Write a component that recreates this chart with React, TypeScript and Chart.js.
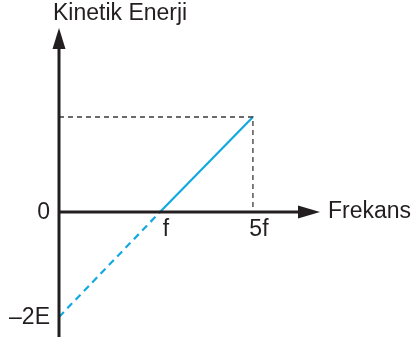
import React, { useEffect, useRef } from "react";
import { Chart, registerables } from "chart.js";

Chart.register(...registerables);

// Data (x in units where f = 1, y in units of E)
const workLineX = [1, 1.92];
const workLineY = [0, 1.81];
const extLineX = [0, 1];
const extLineY = [-2, 0];
const guideX = [0, 1.92, 1.92];
const guideY = [1.81, 1.81, 0];

const xTickValues = [1, 1.92];
const xTickLabels = ["f", "5f"];
const yTickValues = [0, -2];
const yTickLabels = ["0", "–2E"];

const xAxisTitle = "Frekans";
const yAxisTitle = "Kinetik Enerji";

const FONT = '23px "Liberation Sans", Arial, Helvetica, sans-serif';
const CYAN = "#12A9E1";
const INK = "#231F20";

const toPoints = (xs: number[], ys: number[]) => xs.map((x, i) => ({ x, y: ys[i] }));

const axesPlugin = {
  id: "physAxes",
  afterDatasetsDraw(chart: any) {
    const { ctx, scales } = chart;
    const xs = scales.x;
    const ys = scales.y;
    const x0 = xs.getPixelForValue(0);
    const y0 = ys.getPixelForValue(0);
    const xEnd = xs.getPixelForValue(xs.max);
    const yTop = ys.getPixelForValue(ys.max);
    const yBot = ys.getPixelForValue(ys.min);
    ctx.save();
    ctx.strokeStyle = INK;
    ctx.fillStyle = INK;
    ctx.lineWidth = 3;
    ctx.setLineDash([]);
    // y axis
    ctx.beginPath();
    ctx.moveTo(x0, yBot);
    ctx.lineTo(x0, yTop + 18);
    ctx.stroke();
    // x axis
    ctx.beginPath();
    ctx.moveTo(x0, y0);
    ctx.lineTo(xEnd - 18, y0);
    ctx.stroke();
    // arrow heads
    ctx.beginPath();
    ctx.moveTo(x0, yTop);
    ctx.lineTo(x0 - 6.5, yTop + 21);
    ctx.lineTo(x0 + 6.5, yTop + 21);
    ctx.closePath();
    ctx.fill();
    ctx.beginPath();
    ctx.moveTo(xEnd, y0);
    ctx.lineTo(xEnd - 22, y0 - 6.5);
    ctx.lineTo(xEnd - 22, y0 + 6.5);
    ctx.closePath();
    ctx.fill();

    ctx.font = FONT;
    ctx.fillStyle = "#231F20";
    // axis titles
    ctx.textAlign = "left";
    ctx.textBaseline = "alphabetic";
    ctx.fillText(yAxisTitle, x0 - 6, 20);
    ctx.textBaseline = "middle";
    ctx.fillText(xAxisTitle, xEnd + 8, y0);
    // y tick labels
    ctx.textAlign = "right";
    yTickValues.forEach((v, i) => {
      ctx.fillText(yTickLabels[i], x0 - 9, ys.getPixelForValue(v) + 1);
    });
    // x tick labels
    ctx.textAlign = "center";
    ctx.textBaseline = "top";
    xTickValues.forEach((v, i) => {
      ctx.fillText(xTickLabels[i], xs.getPixelForValue(v) + 6, y0 + 6);
    });
    ctx.restore();
  },
};

export default function App() {
  const ref = useRef<HTMLCanvasElement | null>(null);
  useEffect(() => {
    if (!ref.current) return;
    const chart = new Chart(ref.current, {
      type: "scatter",
      data: {
        datasets: [
          {
            data: toPoints(guideX, guideY),
            showLine: true,
            borderColor: "#3a3a3a",
            borderWidth: 1.3,
            borderDash: [5, 4],
            pointRadius: 0,
            fill: false,
          },
          {
            data: toPoints(extLineX, extLineY),
            showLine: true,
            borderColor: CYAN,
            borderWidth: 2.2,
            borderDash: [7, 5],
            pointRadius: 0,
            fill: false,
          },
          {
            data: toPoints(workLineX, workLineY),
            showLine: true,
            borderColor: CYAN,
            borderWidth: 2.2,
            pointRadius: 0,
            fill: false,
          },
        ],
      },
      options: {
        responsive: false,
        animation: false,
        layout: { padding: { left: 59, right: 94, top: 28, bottom: 2 } },
        plugins: { legend: { display: false }, tooltip: { enabled: false } },
        scales: {
          x: { type: "linear", min: 0, max: 2.584, display: false },
          y: { type: "linear", min: -2.381, max: 3.505, display: false },
        },
      },
      plugins: [axesPlugin],
    });
    return () => chart.destroy();
  }, []);
  return (
    <div style={{ position: "fixed", left: 0, top: 0, width: 414, height: 339, background: "#fff" }}>
      <canvas ref={ref} width={414} height={339} style={{ display: "block" }} />
    </div>
  );
}
